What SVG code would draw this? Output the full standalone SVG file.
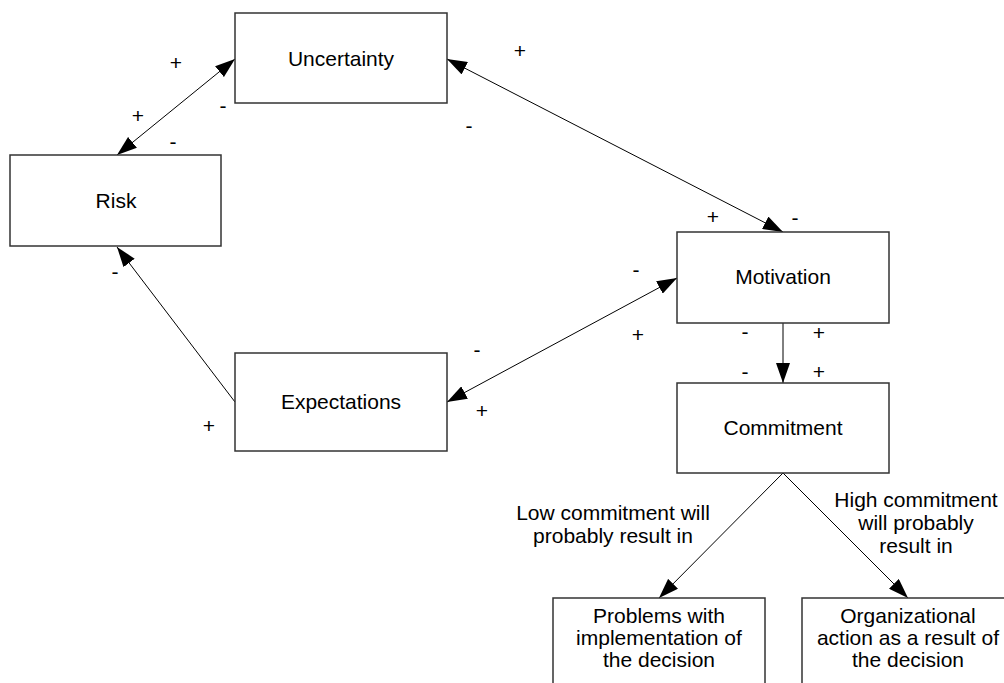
<svg xmlns="http://www.w3.org/2000/svg" width="1004" height="683" viewBox="0 0 1004 683">
<defs>
<style>
.box{fill:#fff;stroke:#333;stroke-width:1.5}
.t{font-family:"Liberation Sans",Arial,sans-serif;font-size:21px;fill:#000;text-anchor:middle}
.s{font-family:"Liberation Sans",Arial,sans-serif;font-size:21px;fill:#000;text-anchor:middle}
.c{stroke:#000;stroke-width:1;fill:none}
</style>
<marker id="ah" viewBox="0 0 20 14" refX="20" refY="7" markerWidth="20" markerHeight="14" markerUnits="userSpaceOnUse" orient="auto-start-reverse">
<path d="M0,0 L20,7 L0,14 z" fill="#000"/>
</marker>
</defs>
<rect width="1004" height="683" fill="#fff"/>
<g id="connectors">
<line class="c" x1="117" y1="155" x2="235" y2="59" marker-start="url(#ah)" marker-end="url(#ah)"/>
<line class="c" x1="447" y1="59" x2="783" y2="232" marker-start="url(#ah)" marker-end="url(#ah)"/>
<line class="c" x1="235" y1="402" x2="117" y2="247" marker-end="url(#ah)"/>
<line class="c" x1="447" y1="402" x2="677" y2="278" marker-start="url(#ah)" marker-end="url(#ah)"/>
<line class="c" x1="783" y1="323" x2="783" y2="383" marker-end="url(#ah)"/>
<line class="c" x1="783" y1="473" x2="659" y2="598" marker-end="url(#ah)"/>
<line class="c" x1="783" y1="473" x2="908" y2="598" marker-end="url(#ah)"/>
</g>
<g id="signs">
<text class="s" x="176" y="70">+</text>
<text class="s" x="138" y="123">+</text>
<text class="s" x="223" y="113">-</text>
<text class="s" x="173" y="149">-</text>
<text class="s" x="520" y="58">+</text>
<text class="s" x="469" y="133">-</text>
<text class="s" x="713" y="224">+</text>
<text class="s" x="795" y="225">-</text>
<text class="s" x="115" y="279">-</text>
<text class="s" x="209" y="433">+</text>
<text class="s" x="636" y="277">-</text>
<text class="s" x="638" y="342">+</text>
<text class="s" x="477" y="357">-</text>
<text class="s" x="482" y="418">+</text>
<text class="s" x="745" y="339">-</text>
<text class="s" x="819" y="340">+</text>
<text class="s" x="745" y="379">-</text>
<text class="s" x="819" y="379">+</text>
<text class="t" x="613"><tspan x="613" y="520">Low commitment will</tspan><tspan x="613" y="543">probably result in</tspan></text>
<text class="t" x="916"><tspan x="916" y="507">High commitment</tspan><tspan x="916" y="530">will probably</tspan><tspan x="916" y="553">result in</tspan></text>
</g>
<g id="uncertainty"><rect class="box" x="235" y="13" width="212" height="90"/><text class="t" x="341" y="65.5">Uncertainty</text></g>
<g id="risk"><rect class="box" x="10" y="155" width="211" height="91"/><text class="t" x="116" y="208">Risk</text></g>
<g id="expectations"><rect class="box" x="235" y="353" width="212" height="98"/><text class="t" x="341" y="409">Expectations</text></g>
<g id="motivation"><rect class="box" x="677" y="232" width="212" height="91"/><text class="t" x="783" y="284">Motivation</text></g>
<g id="commitment"><rect class="box" x="677" y="383" width="212" height="90"/><text class="t" x="783" y="435">Commitment</text></g>
<g id="problems"><rect class="box" x="553" y="598" width="212" height="100"/><text class="t"><tspan x="659" y="623">Problems with</tspan><tspan x="659" y="645">implementation of</tspan><tspan x="659" y="667">the decision</tspan></text></g>
<g id="organizational"><rect class="box" x="802" y="598" width="212" height="100"/><text class="t"><tspan x="908" y="623">Organizational</tspan><tspan x="908" y="645">action as a result of</tspan><tspan x="908" y="667">the decision</tspan></text></g>
</svg>
